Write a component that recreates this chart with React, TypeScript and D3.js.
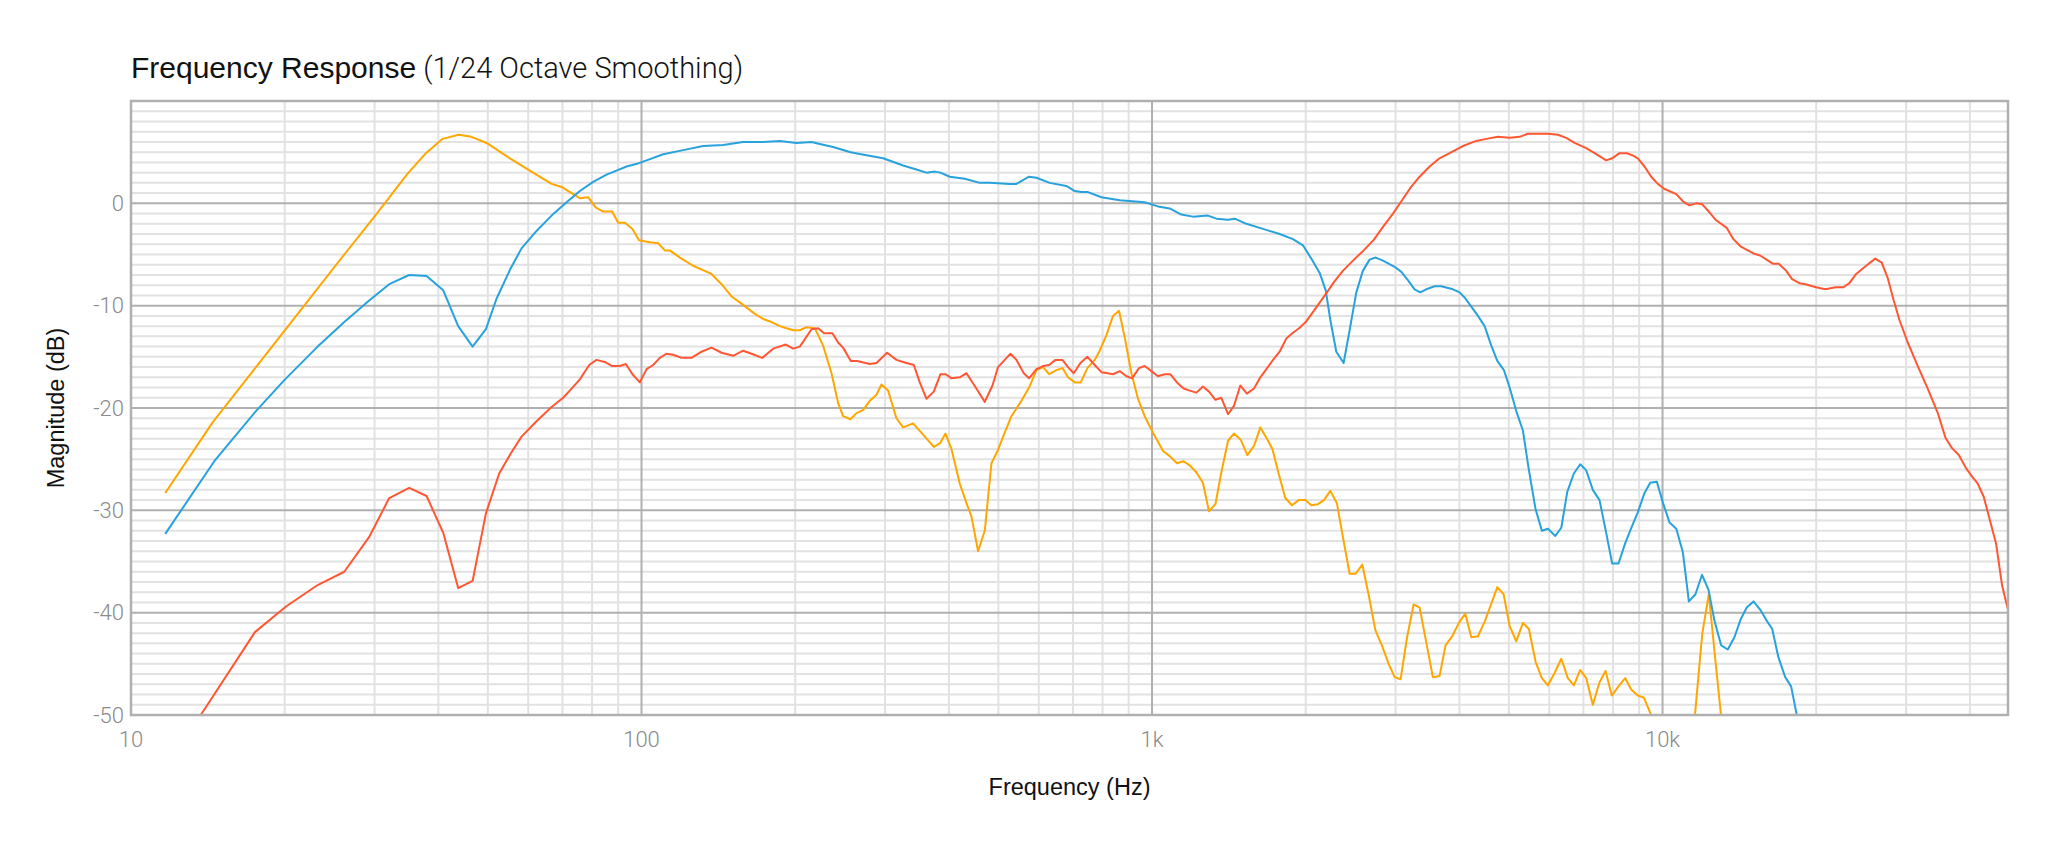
import React from 'react';
import * as d3 from 'd3';

const WIDTH = 2050;
const HEIGHT = 854;
const MARGIN = { top: 101, right: 42, bottom: 139, left: 131 };

const X_DOMAIN: [number, number] = [10, 47500];
const Y_DOMAIN: [number, number] = [-50, 10];

const xTickValues = [10, 100, 1000, 10000];
const xTickLabels = ['10', '100', '1k', '10k'];
const yTickValues = [0, -10, -20, -30, -40, -50];

// orange trace
const orangeFreq = [
  11.67, 14.45, 20.03, 26.17, 30.09, 34.82, 37.82, 40.78, 43.84, 46.47,
  49.73, 55.24, 60.42, 66.66, 69.73, 73.48, 75.73, 78.62, 81.28, 84.12,
  87.6, 90.0, 92.77, 96.0, 98.9, 103.8, 107.8, 111.1, 113.6, 118.9,
  126.2, 137.1, 143.5, 150.1, 157.0, 166.7, 173.1, 179.8, 186.6, 192.3,
  198.2, 204.2, 210.5, 218.5, 226.8, 235.6, 242.7, 248.2, 256.6, 263.7,
  271.6, 280.0, 288.6, 295.1, 304.1, 315.8, 325.4, 340.4, 356.1, 373.7,
  385.1, 393.9, 404.7, 420.2, 433.1, 442.9, 456.3, 470.3, 484.7, 499.3,
  514.6, 530.4, 554.9, 574.3, 593.8, 611.7, 628.5, 649.8, 667.6, 684.6,
  705.6, 725.0, 747.2, 772.2, 789.8, 814.0, 838.7, 861.6, 884.1, 911.2,
  938.7, 967.4, 1004, 1051, 1083, 1119, 1153, 1185, 1222, 1258,
  1293, 1331, 1367, 1409, 1447, 1492, 1537, 1584, 1630, 1675,
  1721, 1770, 1824, 1880, 1938, 1997, 2051, 2113, 2171, 2235,
  2302, 2365, 2438, 2505, 2582, 2660, 2738, 2820, 2907, 2987,
  3069, 3157, 3254, 3343, 3445, 3549, 3658, 3758, 3873, 3991,
  4107, 4221, 4349, 4482, 4605, 4746, 4883, 5017, 5170, 5327,
  5473, 5641, 5803, 5963, 6146, 6334, 6524, 6703, 6899, 7088,
  7302, 7526, 7733, 7955, 8199, 8451, 8683, 8945, 9190, 9460,
  10090, 10800, 11550, 11960, 12320, 12700, 13030, 13520,
];
const orangeDb = [
  -28.3, -21.4, -12.4, -5.0, -1.2, 2.9, 4.9, 6.3, 6.7, 6.5,
  5.9, 4.4, 3.2, 1.9, 1.6, 0.9, 0.5, 0.6, -0.4, -0.8,
  -0.8, -1.9, -1.9, -2.5, -3.6, -3.8, -3.9, -4.6, -4.6, -5.3,
  -6.1, -6.9, -7.9, -9.1, -9.8, -10.8, -11.3, -11.6, -12.0, -12.2,
  -12.4, -12.4, -12.1, -12.2, -13.9, -16.6, -19.5, -20.8, -21.1, -20.5,
  -20.2, -19.3, -18.7, -17.7, -18.3, -21.0, -21.9, -21.5, -22.6, -23.8,
  -23.4, -22.5, -24.0, -27.4, -29.3, -30.6, -34.0, -32.0, -25.4, -24.1,
  -22.4, -20.8, -19.3, -18.0, -16.3, -16.0, -16.7, -16.3, -16.1, -17.0,
  -17.5, -17.5, -16.1, -15.3, -14.4, -12.9, -11.0, -10.5, -13.1, -16.6,
  -19.1, -20.8, -22.4, -24.2, -24.7, -25.4, -25.2, -25.6, -26.3, -27.3,
  -30.1, -29.4, -26.3, -23.2, -22.5, -23.1, -24.6, -23.7, -21.9, -22.9,
  -24.0, -26.4, -28.8, -29.5, -29.0, -29.0, -29.5, -29.4, -29.0, -28.1,
  -29.3, -32.6, -36.2, -36.2, -35.3, -38.4, -41.7, -43.2, -45.0, -46.3,
  -46.5, -42.5, -39.2, -39.5, -42.9, -46.3, -46.2, -43.2, -42.3, -41.0,
  -40.1, -42.4, -42.3, -40.9, -39.3, -37.5, -38.2, -41.3, -42.8, -41.0,
  -41.6, -44.8, -46.4, -47.1, -45.9, -44.5, -46.4, -47.1, -45.6, -46.4,
  -49.0, -46.8, -45.7, -48.1, -47.2, -46.4, -47.5, -48.1, -48.3, -49.8,
  -53, -55, -50.5, -42.1, -38.2, -44.8, -50.2, -56,
];

// blue trace
const blueFreq = [
  11.67, 14.56, 17.57, 20.03, 23.21, 26.17, 29.28, 32.05, 35.07, 37.93,
  40.89, 43.74, 46.68, 49.57, 52.02, 55.24, 58.21, 62.28, 66.66, 71.32,
  75.73, 80.4, 85.42, 89.35, 93.47, 98.49, 102.3, 110.3, 120.7, 132.0,
  144.5, 158.1, 173.1, 186.6, 201.2, 215.3, 223.5, 237.3, 256.8, 275.9,
  297.3, 325.4, 345.6, 361.6, 375.4, 385.1, 401.6, 429.8, 459.7, 481.0,
  526.5, 542.5, 574.3, 593.8, 630.5, 679.7, 705.6, 727.3, 749.3, 795.9,
  864.6, 967.4, 1027, 1083, 1141, 1203, 1287, 1337, 1409, 1452,
  1530, 1650, 1778, 1888, 1975, 2051, 2130, 2189, 2235, 2296,
  2373, 2438, 2513, 2588, 2668, 2742, 2834, 2987, 3079, 3171,
  3268, 3353, 3445, 3577, 3687, 3885, 4004, 4095, 4221, 4349,
  4482, 4619, 4746, 4890, 5017, 5170, 5327, 5466, 5641, 5803,
  5963, 6166, 6334, 6507, 6703, 6899, 7088, 7302, 7526, 7756,
  7968, 8199, 8451, 8707, 8945, 9219, 9460, 9745, 10010, 10320,
  10640, 10960, 11260, 11600, 11950, 12310, 12640, 13030, 13420, 13830,
  14210, 14620, 15070, 15530, 15960, 16400, 16870, 17390, 17860, 18320,
  18970,
];
const blueDb = [
  -32.3, -25.2, -20.3, -17.2, -14.0, -11.6, -9.5, -7.9, -7.0, -7.1,
  -8.5, -12.0, -14.0, -12.3, -9.3, -6.5, -4.4, -2.7, -1.2, 0.1,
  1.2, 2.1, 2.8, 3.2, 3.6, 3.9, 4.2, 4.8, 5.2, 5.6,
  5.7, 6.0, 6.0, 6.1, 5.9, 6.0, 5.8, 5.5, 5.0, 4.7,
  4.4, 3.7, 3.3, 3.0, 3.1, 3.0, 2.6, 2.4, 2.0, 2.0,
  1.9, 1.9, 2.6, 2.5, 2.0, 1.7, 1.2, 1.1, 1.1, 0.6,
  0.3, 0.1, -0.3, -0.5, -1.1, -1.3, -1.2, -1.5, -1.6, -1.5,
  -2.0, -2.5, -3.0, -3.5, -4.1, -5.4, -6.8, -8.5, -11.4, -14.5,
  -15.6, -12.4, -8.7, -6.6, -5.5, -5.3, -5.6, -6.2, -6.7, -7.5,
  -8.4, -8.7, -8.4, -8.1, -8.1, -8.4, -8.7, -9.2, -10.1, -11.0,
  -12.0, -13.9, -15.4, -16.3, -18.0, -20.3, -22.2, -25.9, -29.9, -32.0,
  -31.8, -32.5, -31.7, -28.2, -26.4, -25.5, -26.1, -28.0, -29.0, -32.2,
  -35.2, -35.2, -33.2, -31.6, -30.2, -28.3, -27.3, -27.2, -29.2, -31.2,
  -31.8, -34.1, -38.9, -38.2, -36.3, -37.8, -40.8, -43.2, -43.6, -42.4,
  -40.7, -39.5, -38.9, -39.7, -40.7, -41.6, -44.4, -46.3, -47.2, -50.0,
  -56,
];

// red trace
const redFreq = [
  13.05, 13.82, 17.49, 20.12, 23.21, 26.17, 29.28, 32.05, 35.07, 37.93,
  40.89, 43.74, 46.68, 49.57, 52.63, 55.67, 58.21, 62.28, 66.66, 70.23,
  72.95, 75.73, 78.98, 81.65, 84.76, 87.6, 90.69, 93.17, 96.0, 99.24,
  102.3, 105.4, 108.6, 111.9, 115.3, 119.8, 125.3, 131.1, 137.1, 143.5,
  151.2, 158.1, 164.3, 172.3, 181.1, 191.7, 198.2, 204.2, 215.3, 221.8,
  227.9, 236.6, 242.7, 248.2, 257.0, 264.4, 280.0, 288.6, 302.7, 315.8,
  325.4, 341.5, 350.8, 361.6, 373.7, 385.1, 394.5, 404.7, 420.2, 433.1,
  451.5, 470.3, 486.9, 499.3, 514.6, 528.1, 542.5, 560.8, 574.3, 593.8,
  611.7, 628.5, 647.0, 667.6, 684.6, 702.4, 724.0, 747.2, 772.2, 795.9,
  820.0, 838.7, 864.6, 891.1, 913.9, 943.0, 967.4, 997.1, 1027, 1059,
  1086, 1119, 1153, 1185, 1222, 1258, 1293, 1331, 1367, 1409,
  1447, 1489, 1534, 1584, 1630, 1675, 1726, 1778, 1833, 1883,
  1941, 2000, 2061, 2130, 2201, 2279, 2365, 2475, 2597, 2716,
  2834, 2965, 3079, 3206, 3343, 3498, 3658, 3827, 4063, 4318,
  4516, 4759, 5017, 5248, 5448, 5657, 5963, 6237, 6478, 6725,
  7088, 7416, 7756, 7968, 8237, 8513, 8721, 8945, 9219, 9503,
  9790, 10090, 10640, 10960, 11290, 11640, 11960, 12320, 12700, 13360,
  13770, 14210, 15070, 15530, 16440, 16890, 17470, 17940, 18540, 19050,
  19990, 20850, 21820, 22610, 23230, 23950, 25050, 26100, 26880, 27610,
  28370, 29110, 30220, 31620, 33070, 34610, 35830, 36870, 38050, 39330,
  40410, 41450, 42590, 43690, 45030, 46270, 47440,
];
const redDb = [
  -51.6, -49.7, -41.9, -39.4, -37.3, -36.0, -32.6, -28.8, -27.8, -28.6,
  -32.2, -37.6, -36.9, -30.3, -26.4, -24.3, -22.8, -21.3, -19.9, -19.0,
  -18.1, -17.2, -15.8, -15.3, -15.5, -15.9, -15.9, -15.7, -16.7, -17.5,
  -16.2, -15.8, -15.1, -14.7, -14.8, -15.1, -15.1, -14.5, -14.1, -14.6,
  -14.9, -14.4, -14.7, -15.1, -14.2, -13.8, -14.2, -14.0, -12.3, -12.2,
  -12.7, -12.7, -13.6, -14.1, -15.4, -15.4, -15.7, -15.6, -14.6, -15.3,
  -15.5, -15.8, -17.5, -19.1, -18.4, -16.7, -16.7, -17.1, -17.0, -16.6,
  -18.0, -19.4, -17.8, -16.0, -15.3, -14.7, -15.3, -16.6, -17.1, -16.2,
  -15.9, -15.8, -15.3, -15.3, -16.0, -16.6, -15.6, -15.0, -15.8, -16.5,
  -16.6, -16.7, -16.4, -16.9, -17.1, -16.1, -15.9, -16.4, -16.9, -16.7,
  -16.7, -17.5, -18.1, -18.3, -18.5, -17.9, -18.4, -19.2, -19.0, -20.6,
  -19.8, -17.8, -18.6, -18.1, -17.0, -16.2, -15.3, -14.5, -13.2, -12.7,
  -12.2, -11.6, -10.7, -9.7, -8.7, -7.6, -6.6, -5.6, -4.6, -3.6,
  -2.3, -1.0, 0.2, 1.5, 2.6, 3.6, 4.4, 4.9, 5.6, 6.1,
  6.3, 6.5, 6.4, 6.5, 6.8, 6.8, 6.8, 6.7, 6.4, 5.9,
  5.4, 4.8, 4.2, 4.4, 4.9, 4.9, 4.7, 4.4, 3.6, 2.6,
  1.9, 1.4, 0.9, 0.2, -0.2, 0.0, -0.1, -0.8, -1.6, -2.4,
  -3.5, -4.2, -4.9, -5.1, -5.9, -5.9, -6.6, -7.4, -7.8, -7.9,
  -8.2, -8.4, -8.2, -8.2, -7.8, -6.9, -6.1, -5.4, -5.8, -7.3,
  -9.5, -11.4, -13.6, -15.9, -18.1, -20.5, -22.9, -23.9, -24.6, -25.9,
  -26.7, -27.4, -28.7, -30.8, -33.3, -37.4, -39.6,
];

const series = [
  { key: 'orange', color: '#ffa600', freq: orangeFreq, db: orangeDb },
  { key: 'blue', color: '#27a2dd', freq: blueFreq, db: blueDb },
  { key: 'red', color: '#ff5733', freq: redFreq, db: redDb },
];

const LIGHT_FONT = 'Roboto, "Liberation Sans", sans-serif';
const MAIN_FONT = '"Liberation Sans", Arial, sans-serif';

export default function App() {
  const innerW = WIDTH - MARGIN.left - MARGIN.right;
  const innerH = HEIGHT - MARGIN.top - MARGIN.bottom;

  const x = d3.scaleLog().domain(X_DOMAIN).range([0, innerW]);
  const y = d3.scaleLinear().domain(Y_DOMAIN).range([innerH, 0]);

  // grid values
  const minorX: number[] = [];
  for (let dec = 10; dec < X_DOMAIN[1]; dec *= 10) {
    for (let m = 2; m <= 9; m++) {
      if (dec * m < X_DOMAIN[1]) minorX.push(dec * m);
    }
  }
  const minorY = d3.range(Y_DOMAIN[0], Y_DOMAIN[1] + 1, 1).filter(v => v % 10 !== 0);
  const majorY = d3.range(Y_DOMAIN[0], Y_DOMAIN[1] + 1, 10);

  const line = d3.line<[number, number]>()
    .x(d => x(d[0]))
    .y(d => y(d[1]));

  return (
    <svg width={WIDTH} height={HEIGHT} style={{ position: 'absolute', left: 0, top: 0, background: '#fff' }}>
      <defs>
        <clipPath id="plot-clip">
          <rect x={0} y={0} width={innerW} height={innerH} />
        </clipPath>
      </defs>

      <text x={MARGIN.left} y={78} fontFamily={MAIN_FONT} fontSize={30} fill="#111">
        Frequency Response
        <tspan fontFamily={LIGHT_FONT} fontWeight={300} fontSize={29}> (1/24 Octave Smoothing)</tspan>
      </text>

      <g transform={`translate(${MARGIN.left},${MARGIN.top})`}>
        {minorY.map(v => (
          <line key={`my${v}`} x1={0} x2={innerW} y1={y(v)} y2={y(v)} stroke="#e2e2e2" strokeWidth={2} />
        ))}
        {minorX.map(v => (
          <line key={`mx${v}`} x1={x(v)} x2={x(v)} y1={0} y2={innerH} stroke="#e2e2e2" strokeWidth={2} />
        ))}
        {majorY.map(v => (
          <line key={`My${v}`} x1={0} x2={innerW} y1={y(v)} y2={y(v)} stroke="#b0b0b0" strokeWidth={2} />
        ))}
        {xTickValues.map(v => (
          <line key={`Mx${v}`} x1={x(v)} x2={x(v)} y1={0} y2={innerH} stroke="#b0b0b0" strokeWidth={2} />
        ))}

        <g clipPath="url(#plot-clip)">
          {series.map(s => (
            <path
              key={s.key}
              d={line(d3.zip(s.freq, s.db) as [number, number][]) || ''}
              fill="none"
              stroke={s.color}
              strokeWidth={2}
              strokeLinejoin="round"
            />
          ))}
        </g>

        <rect x={0} y={0} width={innerW} height={innerH} fill="none" stroke="#b0b0b0" strokeWidth={2.5} />

        {yTickValues.map(v => (
          <text
            key={`yt${v}`}
            x={-7}
            y={y(v) + 2}
            textAnchor="end"
            dominantBaseline="middle"
            fontFamily={LIGHT_FONT}
            fontWeight={300}
            fontSize={22}
            fill="#8a8a8a"
          >
            {v}
          </text>
        ))}
        {xTickValues.map((v, i) => (
          <text
            key={`xt${v}`}
            x={x(v)}
            y={innerH + 32}
            textAnchor="middle"
            fontFamily={LIGHT_FONT}
            fontWeight={300}
            fontSize={22}
            fill="#8a8a8a"
          >
            {xTickLabels[i]}
          </text>
        ))}

        <text
          x={innerW / 2}
          y={innerH + 80}
          textAnchor="middle"
          fontFamily={MAIN_FONT}
          fontSize={23.5}
          fill="#111"
        >
          Frequency (Hz)
        </text>
        <text
          transform={`translate(${64 - MARGIN.left},${innerH / 2}) rotate(-90)`}
          textAnchor="middle"
          fontFamily={MAIN_FONT}
          fontSize={23.5}
          fill="#111"
        >
          Magnitude (dB)
        </text>
      </g>
    </svg>
  );
}
